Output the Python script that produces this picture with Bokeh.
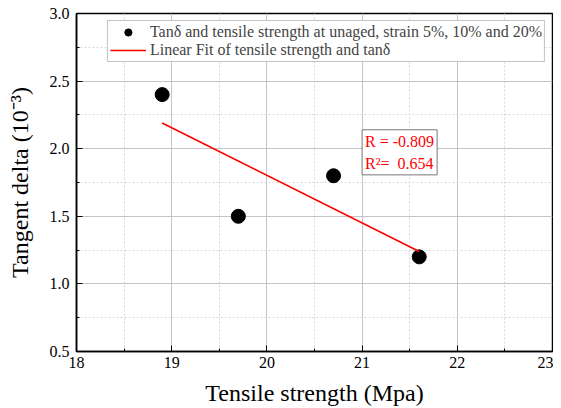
from bokeh.plotting import figure
from bokeh.models import Range1d, FixedTicker, Label, Legend, LegendItem, NumeralTickFormatter
from bokeh.embed import file_html
from bokeh.resources import INLINE

# Data
tensile = [18.9, 19.7, 20.7, 21.6]
tan_delta = [2.4, 1.5, 1.8, 1.2]
fit_x = [18.9, 21.6]
fit_y = [2.19, 1.24]
x_ticks = [18, 19, 20, 21, 22, 23]
y_ticks = [0.5, 1.0, 1.5, 2.0, 2.5, 3.0]
r_text = "R = -0.809\nR\u00b2=\u00a0 0.654"

FONT = "Liberation Serif"

p = figure(width=553, height=408, output_backend="svg", toolbar_location=None,
           x_range=Range1d(18, 23), y_range=Range1d(0.5, 3.0),
           min_border_left=76, min_border_top=13, min_border_right=1, min_border_bottom=57)
p.outline_line_color = "black"
p.outline_line_width = 1.5

for ax in (p.xaxis[0], p.yaxis[0]):
    ax.axis_line_color = "black"
    ax.axis_line_width = 1.5
    ax.major_tick_in = 6
    ax.major_tick_out = 0
    ax.minor_tick_in = 3
    ax.minor_tick_out = 0
    ax.major_tick_line_color = "black"
    ax.minor_tick_line_color = "black"
    ax.major_label_text_font = FONT
    ax.major_label_text_font_size = "16px"
    ax.major_label_text_color = "black"
    ax.axis_label_text_font = FONT
    ax.axis_label_text_font_size = "24px"
    ax.axis_label_text_font_style = "normal"
    ax.axis_label_text_color = "black"

p.xaxis.ticker = FixedTicker(ticks=x_ticks, minor_ticks=[18.5, 19.5, 20.5, 21.5, 22.5])
p.yaxis.ticker = FixedTicker(ticks=y_ticks, minor_ticks=[0.75, 1.25, 1.75, 2.25, 2.75])
p.xaxis.formatter = NumeralTickFormatter(format="0")
p.yaxis.formatter = NumeralTickFormatter(format="0.0")
p.xaxis.major_label_standoff = 5
p.yaxis.major_label_standoff = 7
p.xaxis.axis_label = "Tensile strength (Mpa)"
p.yaxis.axis_label = "Tangent delta (10\u207b\u00b3)"
p.xaxis.axis_label_standoff = 9
p.yaxis.axis_label_standoff = 14

for g in (p.xgrid[0], p.ygrid[0]):
    g.grid_line_color = "#c4c4c4"
    g.grid_line_width = 1
    g.minor_grid_line_color = "#d8d8d8"
    g.minor_grid_line_dash = "2 2"
    g.minor_grid_line_width = 1

sc = p.scatter(tensile, tan_delta, size=14, color="black")
ln = p.line(fit_x, fit_y, line_color="red", line_width=1.6)

legend = Legend(items=[
    LegendItem(label="Tan\u03b4 and tensile strength at unaged, strain 5%, 10% and 20%", renderers=[sc]),
    LegendItem(label="Linear Fit of tensile strength and tan\u03b4", renderers=[ln]),
], location="top_right")
legend.label_text_font = FONT
legend.label_text_font_size = "16px"
legend.label_height = 18
legend.glyph_height = 18
legend.glyph_width = 36
legend.spacing = 0
legend.padding = 2
legend.margin = 7
legend.border_line_color = "#888888"
legend.border_line_width = 1
legend.label_standoff = 4
p.add_layout(legend)

lab = Label(x=21.0, y=2.14, text=r_text, text_font=FONT, text_font_size="16px",
            text_color="red", text_line_height=1.3, anchor="top_left",
            border_line_color="#777777", background_fill_color="white", padding=3)
p.add_layout(lab)

open("out.html", "w").write(file_html(p, INLINE))
